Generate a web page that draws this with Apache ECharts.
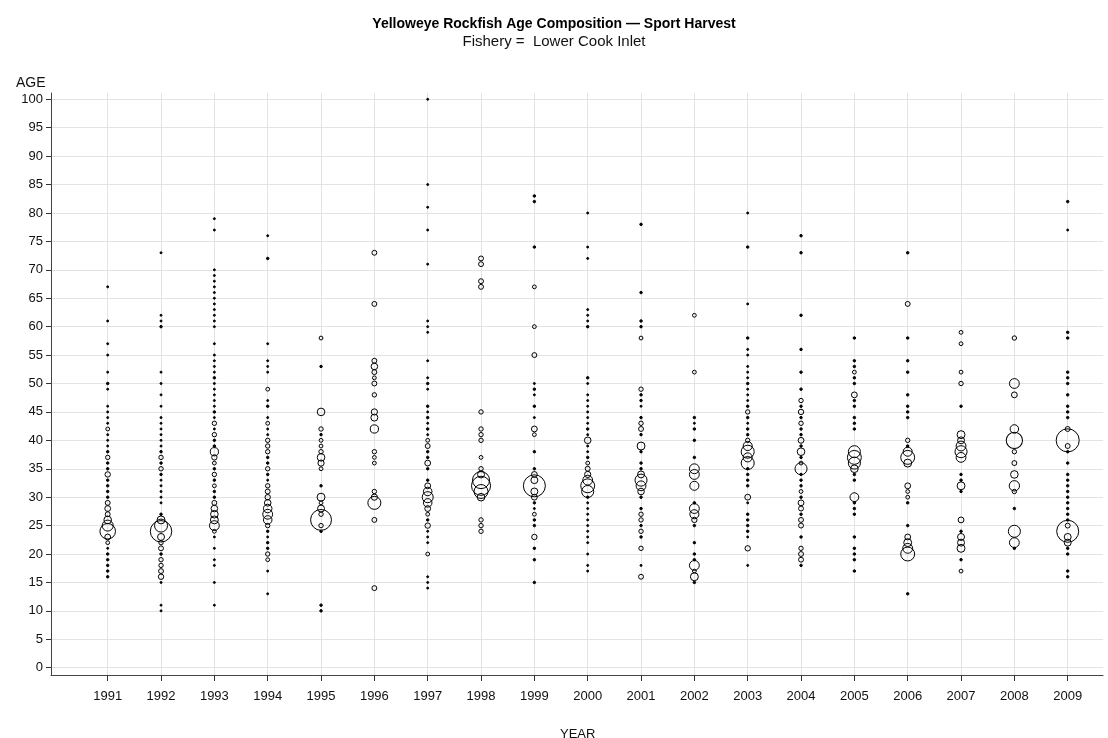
<!DOCTYPE html>
<html>
<head>
<meta charset="utf-8">
<script src="https://cdn.jsdelivr.net/npm/echarts@6/dist/echarts.min.js"></script>
<style>
html,body{margin:0;padding:0;background:#fff;}
#c{width:1108px;height:738px;}
</style>
</head>
<body>
<div id="c"></div>
<script>
// ---- data: [age, relative count] per sample year ----
const years = [1991,1992,1993,1994,1995,1996,1997,1998,1999,2000,2001,2002,2003,2004,2005,2006,2007,2008,2009];

const y1991 = [[67,1],[61,1],[57,1],[55,1],[52,1],[50,2],[49,1],[46,1],[45,1],[44,1],[43,1],[42,3],[41,1],[40,1],[39,1],[38,2],[37,4],[36,2],[35,2],[34,6],[33,2],[32,2],[31,2],[30,2],[29,5],[28,7],[27,5],[26,12],[25,25],[24,50],[23,7],[22,3],[21,1],[20,2],[19,2],[18,2],[17,2],[16,2]];
const y1992 = [[73,1],[62,1],[61,1],[60,2],[52,1],[50,1],[48,1],[46,1],[44,1],[43,1],[42,1],[41,1],[40,1],[39,1],[38,2],[37,4],[36,2],[35,4],[34,2],[33,1],[32,1],[31,1],[30,1],[29,1],[27,2],[26,13],[25,35],[24,95],[23,10],[22,4],[21,5],[20,2],[19,4],[18,4],[17,5],[16,6],[15,1],[11,1],[10,1]];
const y1993 = [[79,1],[77,1],[70,1],[69,1],[68,1],[67,1],[66,1],[65,1],[64,1],[63,1],[62,1],[61,1],[60,1],[57,1],[55,1],[54,1],[53,1],[52,1],[51,2],[50,1],[49,1],[48,1],[47,1],[46,1],[45,2],[44,1],[43,4],[42,1],[41,4],[40,2],[39,2],[38,14],[37,6],[36,3],[35,2],[34,4],[33,2],[32,3],[31,2],[30,2],[29,5],[28,9],[27,12],[26,13],[25,20],[24,3],[23,1],[21,1],[19,1],[18,1],[15,1],[11,1]];
const y1994 = [[76,1],[72,2],[57,1],[54,1],[53,1],[52,1],[49,3],[47,1],[46,2],[44,1],[43,3],[42,1],[41,1],[40,4],[39,4],[38,4],[37,2],[36,2],[35,4],[34,2],[33,1],[32,4],[31,5],[30,6],[29,9],[28,15],[27,20],[26,15],[25,4],[24,2],[23,1],[22,2],[21,2],[20,4],[19,3],[17,1],[13,1]];
const y1995 = [[58,3],[53,2],[45,12],[42,4],[41,2],[40,3],[39,3],[38,4],[37,12],[36,8],[35,3],[32,2],[30,13],[29,3],[28,10],[27,4],[26,90],[25,4],[24,2],[11,2],[10,2]];
const y1996 = [[73,5],[64,5],[54,5],[53,9],[52,5],[51,3],[50,5],[48,4],[45,8],[44,10],[42,14],[38,4],[37,3],[36,3],[31,4],[30,8],[29,35],[26,5],[14,5]];
const y1997 = [[100,1],[85,1],[81,1],[77,1],[71,1],[61,1],[60,1],[59,1],[54,1],[51,1],[50,2],[49,1],[46,2],[45,1],[44,2],[43,1],[42,2],[41,1],[40,3],[39,5],[38,2],[37,2],[36,7],[35,2],[33,2],[32,7],[31,15],[30,25],[29,15],[28,7],[27,3],[26,2],[25,6],[24,1],[23,1],[22,1],[20,3],[16,1],[15,1],[14,1]];
const y1998 = [[72,5],[71,5],[68,5],[67,5],[45,4],[42,4],[41,4],[40,4],[37,3],[35,4],[34,10],[33,60],[32,75],[31,40],[30,12],[26,4],[25,4],[24,4]];
const y1999 = [[83,2],[82,2],[74,2],[67,3],[60,3],[55,5],[50,1],[49,2],[48,1],[46,2],[44,1],[42,7],[41,3],[38,2],[35,2],[34,7],[33,10],[32,100],[31,10],[30,7],[29,2],[28,1],[27,3],[26,2],[25,2],[23,6],[21,2],[19,2],[15,2]];
const y2000 = [[80,1],[74,1],[72,1],[63,1],[62,1],[61,1],[60,2],[51,2],[50,1],[48,1],[47,1],[46,1],[45,1],[44,1],[43,1],[42,2],[41,1],[40,9],[39,1],[38,1],[37,2],[36,3],[35,5],[34,8],[33,20],[32,40],[31,30],[30,2],[29,1],[28,1],[27,1],[26,1],[25,1],[24,1],[23,1],[22,1],[20,1],[18,1],[17,1]];
const y2001 = [[78,2],[66,2],[61,2],[60,2],[58,3],[49,4],[48,2],[47,2],[46,1],[44,2],[43,4],[42,5],[41,2],[39,13],[38,2],[36,2],[35,2],[34,10],[33,30],[32,20],[31,9],[30,2],[28,2],[27,4],[26,4],[25,2],[24,4],[23,2],[21,4],[18,1],[16,5]];
const y2002 = [[62,3],[52,3],[44,2],[43,1],[42,2],[40,2],[37,2],[35,20],[34,20],[32,17],[29,2],[28,20],[27,17],[26,6],[25,2],[22,2],[20,2],[19,2],[18,20],[17,3],[16,13],[15,2]];
const y2003 = [[80,1],[74,2],[64,1],[58,2],[56,1],[55,1],[53,1],[52,1],[51,1],[50,2],[49,1],[48,1],[47,1],[46,2],[45,4],[44,2],[43,1],[42,2],[41,2],[40,4],[39,17],[38,35],[37,17],[36,35],[35,2],[34,2],[33,2],[32,2],[30,7],[29,1],[27,2],[26,2],[25,2],[24,2],[23,1],[21,6],[18,1]];
const y2004 = [[76,2],[73,2],[62,2],[56,2],[52,2],[49,2],[47,4],[46,2],[45,6],[44,2],[43,4],[42,2],[41,2],[40,7],[39,2],[38,12],[37,2],[36,3],[35,30],[34,2],[33,2],[32,2],[31,3],[30,2],[29,7],[28,5],[27,2],[26,5],[25,5],[23,2],[21,4],[20,5],[19,5],[18,2]];
const y2005 = [[58,2],[54,2],[53,2],[52,3],[51,2],[50,2],[48,7],[47,2],[46,2],[44,2],[43,2],[42,2],[38,30],[37,40],[36,30],[35,12],[34,2],[33,2],[30,16],[29,2],[28,2],[27,2],[23,2],[21,2],[20,2],[19,2],[17,2]];
const y2006 = [[73,2],[64,5],[58,2],[54,2],[52,2],[48,2],[46,2],[45,2],[44,2],[40,4],[39,2],[38,17],[37,40],[36,13],[32,7],[31,3],[30,3],[29,2],[25,2],[23,7],[22,13],[21,20],[20,40],[13,2]];
const y2007 = [[59,3],[57,3],[52,3],[50,4],[46,2],[41,13],[40,10],[39,20],[38,30],[37,20],[34,2],[33,2],[32,13],[31,2],[26,7],[24,2],[23,10],[22,10],[21,13],[19,2],[17,3]];
const y2008 = [[58,4],[50,20],[48,7],[42,15],[40,55],[38,4],[36,5],[34,12],[32,22],[31,4],[28,2],[24,30],[22,20],[21,2]];
const y2009 = [[82,2],[77,1],[59,2],[58,2],[52,2],[51,2],[50,2],[48,2],[46,2],[45,2],[44,2],[42,5],[40,110],[39,5],[38,2],[36,2],[34,2],[33,2],[32,2],[31,2],[30,2],[29,2],[28,2],[27,2],[26,2],[25,5],[24,100],[23,10],[22,10],[21,2],[20,2],[17,2],[16,2]];

const byYear = [y1991,y1992,y1993,y1994,y1995,y1996,y1997,y1998,y1999,y2000,y2001,y2002,y2003,y2004,y2005,y2006,y2007,y2008,y2009];

const points = [];
years.forEach((yr, i) => {
  byYear[i].forEach(p => points.push([yr, p[0], p[1]]));
});

const FONT = "'Liberation Sans',Arial,sans-serif";
const GRID_COLOR = '#e3e3e3';

const chart = echarts.init(document.getElementById('c'), null, {renderer:'canvas'});
chart.setOption({
  animation: false,
  backgroundColor: '#fff',
  title: [
    {text: 'Yelloweye Rockfish Age Composition \u2014 Sport Harvest', left: 'center', top: 12,
     textStyle: {fontFamily: FONT, fontWeight: 'bold', fontSize: 14, color: '#000'}},
    {text: 'Fishery =  Lower Cook Inlet', left: 'center', top: 29,
     textStyle: {fontFamily: FONT, fontWeight: 'normal', fontSize: 15, color: '#111'}},
    {text: 'AGE', left: 11, top: 71,
     textStyle: {fontFamily: FONT, fontWeight: 'normal', fontSize: 14, color: '#111'}},
    {text: 'YEAR', left: 555, top: 723,
     textStyle: {fontFamily: FONT, fontWeight: 'normal', fontSize: 13, color: '#111'}}
  ],
  grid: [
    {left: 107.7, right: 40.3, top: 99.3, bottom: 70.3},   // data
    {left: 51, right: 5, top: 99.3, bottom: 70.3},         // y ticks/labels/gridlines
    {left: 107.7, right: 40.3, top: 93, bottom: 63},       // x ticks/labels/gridlines
    {left: 51, right: 5, top: 93, bottom: 63}              // axis lines
  ],
  xAxis: [
    {gridIndex: 0, type: 'value', min: 1991, max: 2009, show: false},
    {gridIndex: 1, type: 'value', min: 0, max: 1, show: false},
    {gridIndex: 2, type: 'value', min: 1991, max: 2009, interval: 1,
     axisLine: {show: false},
     axisTick: {show: true, length: 6, lineStyle: {color: '#333', width: 1}},
     axisLabel: {margin: 15, fontFamily: FONT, fontSize: 13, color: '#111',
       formatter: v => String(v)},
     splitLine: {show: true, lineStyle: {color: GRID_COLOR, width: 1}}},
    {gridIndex: 3, type: 'value', min: 0, max: 1,
     axisLine: {show: true, lineStyle: {color: '#444', width: 1}},
     axisTick: {show: false}, axisLabel: {show: false}, splitLine: {show: false}}
  ],
  yAxis: [
    {gridIndex: 0, type: 'value', min: 0, max: 100, show: false},
    {gridIndex: 1, type: 'value', min: 0, max: 100, interval: 5,
     axisLine: {show: false},
     axisTick: {show: true, length: 5, lineStyle: {color: '#333', width: 1}},
     axisLabel: {margin: 8, fontFamily: FONT, fontSize: 13, color: '#111'},
     splitLine: {show: true, lineStyle: {color: GRID_COLOR, width: 1}}},
    {gridIndex: 2, type: 'value', min: 0, max: 1, show: false},
    {gridIndex: 3, type: 'value', min: 0, max: 1,
     axisLine: {show: true, lineStyle: {color: '#444', width: 1}},
     axisTick: {show: false}, axisLabel: {show: false}, splitLine: {show: false}}
  ],
  series: [{
    type: 'scatter',
    xAxisIndex: 0, yAxisIndex: 0,
    data: points,
    symbol: 'circle',
    symbolSize: v => v[2] <= 2 ? 1.5 + 0.5 * v[2] : 2.2 * Math.sqrt(v[2]),
    itemStyle: {
      color: p => (p.data[2] <= 2 ? '#000' : 'rgba(0,0,0,0)'),
      borderColor: '#000', borderWidth: 1, opacity: 1
    },
    silent: true,
    z: 5
  }]
});
</script>
</body>
</html>
